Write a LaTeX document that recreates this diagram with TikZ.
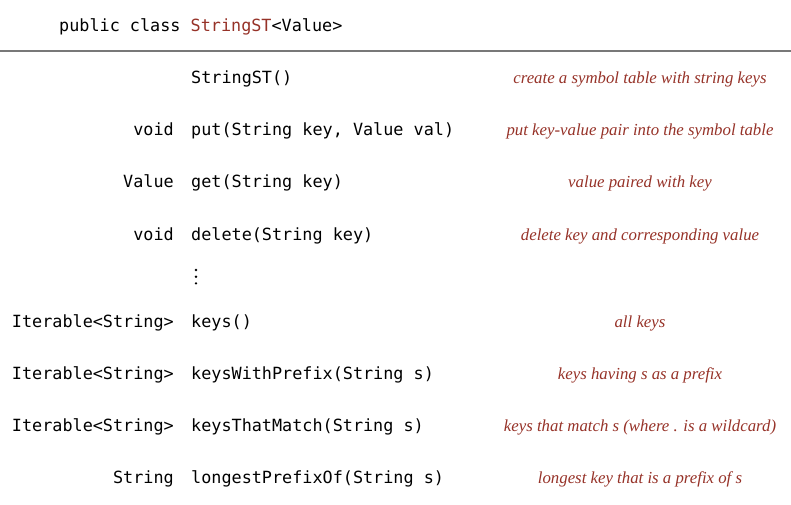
\documentclass[tikz,border=0pt]{standalone}
\usepackage{fontspec}
\setmainfont{Liberation Serif}
\setmonofont{DejaVu Sans Mono}
\definecolor{bookred}{RGB}{150,50,40}
\definecolor{rulegray}{RGB}{120,120,120}
\begin{document}
\begin{tikzpicture}[x=1pt,y=1pt,
  code/.style={inner sep=0pt,font=\fontsize{16.8}{20}\selectfont\ttfamily},
  rettype/.style={code,anchor=base east},
  method/.style={code,anchor=base west},
  desc/.style={inner sep=0pt,anchor=base,text=bookred,font=\fontsize{16.8}{20}\selectfont\itshape}]
\useasboundingbox (0,0) rectangle (791,-504);
\node[method] (hdr) at (59,-31) {public class \textcolor{bookred}{StringST}<Value>};
\draw[rulegray,line width=1.6pt] (0,-51) coordinate (rl) -- (791,-51) coordinate (rr);
% rows
\node[method] (m1) at (191,-83) {StringST()};
\node[desc] (d1) at (640,-83) {create a symbol table with string keys};
\node[rettype] (r2) at (174,-135) {void};
\node[method] (m2) at (191,-135) {put(String key, Value val)};
\node[desc] (d2) at (640,-135) {put key-value pair into the symbol table};
\node[rettype] (r3) at (174,-187.5) {Value};
\node[method] (m3) at (191,-187.5) {get(String key)};
\node[desc] (d3) at (640,-187.5) {value paired with key};
\node[rettype] (r4) at (174,-240) {void};
\node[method] (m4) at (191,-240) {delete(String key)};
\node[desc] (d4) at (640,-240) {delete key and corresponding value};
\fill (196,-270) circle (1.3);
\fill (196,-276.7) circle (1.3);
\fill (196,-283.3) circle (1.3);
\node[rettype] (r5) at (174,-327) {Iterable<String>};
\node[method] (m5) at (191,-327) {keys()};
\node[desc] (d5) at (640,-327) {all keys};
\node[rettype] (r6) at (174,-379) {Iterable<String>};
\node[method] (m6) at (191,-379) {keysWithPrefix(String s)};
\node[desc] (d6) at (640,-379) {keys having s as a prefix};
\node[rettype] (r7) at (174,-431) {Iterable<String>};
\node[method] (m7) at (191,-431) {keysThatMatch(String s)};
\node[desc] (d7) at (640,-431) {keys that match s (where . is a wildcard)};
\node[rettype] (r8) at (174,-483) {String};
\node[method] (m8) at (191,-483) {longestPrefixOf(String s)};
\node[desc] (d8) at (640,-483) {longest key that is a prefix of s};
\end{tikzpicture}
\end{document}
